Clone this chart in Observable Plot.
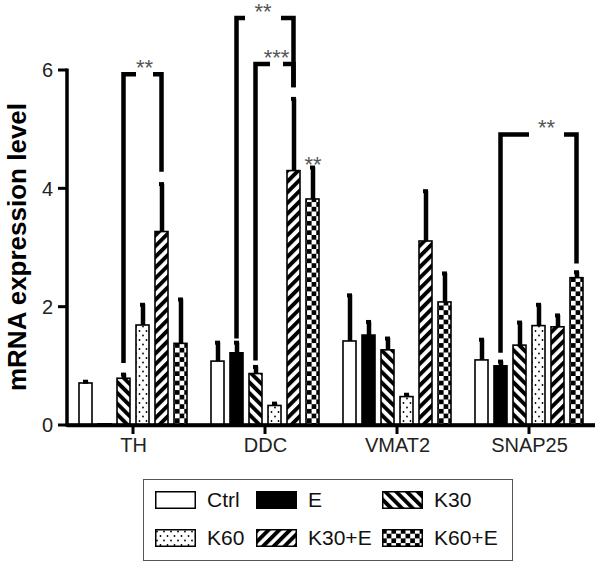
<!DOCTYPE html>
<html>
<head>
<meta charset="utf-8">
<script src="https://cdn.jsdelivr.net/npm/d3@7"></script>
<script src="https://cdn.jsdelivr.net/npm/@observablehq/plot@0.6"></script>
<style>
  html, body { margin: 0; padding: 0; background: #fff; overflow: hidden; }
  body { width: 601px; height: 562px; position: relative; font-family: "Liberation Sans", Arial, sans-serif; }
  #ylabel { position: absolute; left: 17px; top: 247px; transform: translate(-50%, -50%) rotate(-90deg); white-space: nowrap; font-weight: bold; font-size: 26px; color: #000; }
  #legend { position: absolute; left: 143px; top: 479px; width: 370px; height: 82px; border: 1.5px solid #555; box-sizing: border-box; }
  .item { position: absolute; display: flex; align-items: center; font-size: 21px; color: #111; }
  .item svg { margin-right: 11px; }
</style>
</head>
<body>
<svg width="0" height="0" style="position:absolute">
  <defs>
    <pattern id="p-k30" patternUnits="userSpaceOnUse" width="7.6" height="7.6" patternTransform="rotate(-45)">
      <rect width="7.6" height="7.6" fill="#fff"/><rect width="3.9" height="7.6" fill="#000"/>
    </pattern>
    <pattern id="p-k30e" patternUnits="userSpaceOnUse" width="7.6" height="7.6" patternTransform="rotate(45)">
      <rect width="7.6" height="7.6" fill="#fff"/><rect width="3.9" height="7.6" fill="#000"/>
    </pattern>
    <pattern id="p-k60" patternUnits="userSpaceOnUse" width="7" height="9">
      <rect width="7" height="9" fill="#fff"/>
      <circle cx="2" cy="2.5" r="0.9" fill="#000"/><circle cx="5.5" cy="7" r="0.9" fill="#000"/>
    </pattern>
    <pattern id="p-k60e" patternUnits="userSpaceOnUse" width="9.4" height="9.4">
      <rect width="9.4" height="9.4" fill="#fff"/>
      <rect width="4.7" height="4.7" fill="#000"/><rect x="4.7" y="4.7" width="4.7" height="4.7" fill="#000"/>
    </pattern>
  </defs>
</svg>
<div id="chart"></div>
<div id="ylabel"></div>
<div id="legend"></div>
<script>
// ---- data ----
const genes = ["TH", "DDC", "VMAT2", "SNAP25"];
const conditions = ["Ctrl", "E", "K30", "K60", "K30+E", "K60+E"];
const meanTH     = [0.71, 0.02, 0.79, 1.69, 3.27, 1.38];
const upperTH    = [0.74, 0.02, 0.86, 2.04, 4.08, 2.13];
const meanDDC    = [1.08, 1.22, 0.87, 0.33, 4.30, 3.82];
const upperDDC   = [1.40, 1.40, 0.99, 0.37, 5.52, 4.36];
const meanVMAT2  = [1.42, 1.52, 1.27, 0.48, 3.11, 2.08];
const upperVMAT2 = [2.20, 1.75, 1.47, 0.52, 3.96, 2.57];
const meanSNAP25 = [1.10, 1.00, 1.35, 1.68, 1.66, 2.49];
const upperSNAP25= [1.45, 1.08, 1.74, 2.04, 1.86, 2.59];

// significance brackets
const bracketGene  = ["TH", "DDC", "DDC", "SNAP25"];
const bracketFrom  = ["K30", "E", "K30", "E"];
const bracketTo    = ["K30+E", "K30+E", "K30+E", "K60+E"];
const bracketTop   = [5.93, 6.88, 6.10, 4.91];
const bracketLeft  = [1.05, 1.46, 1.09, 1.22];
const bracketRight = [4.28, 5.71, 5.71, 2.73];
const bracketLabel = ["**", "**", "***", "**"];
// single-bar annotation
const starGene = ["DDC"];
const starCond = ["K60+E"];
const starY    = [4.29];
const starLabel= ["**"];

const yTicks = [0, 2, 4, 6];
const yLabel = "mRNA expression level";

// ---- styles ----
const fills = ["#ffffff", "#000000", "url(#p-k30)", "url(#p-k60)", "url(#p-k30e)", "url(#p-k60e)"];
const bracketGapPx = [17, 36, 13, 35];
const bracketShiftPx = [2, -2, 2, 8];

// ---- tables ----
const series = {TH: [meanTH, upperTH], DDC: [meanDDC, upperDDC], VMAT2: [meanVMAT2, upperVMAT2], SNAP25: [meanSNAP25, upperSNAP25]};
const rows = genes.flatMap(g => conditions.map((c, i) => ({gene: g, cond: c, mean: series[g][0][i], upper: series[g][1][i]})));
const errRows = rows.filter(d => d.upper > d.mean);
const brackets = bracketGene.map((g, i) => ({gene: g, from: bracketFrom[i], to: bracketTo[i], top: bracketTop[i], left: bracketLeft[i], right: bracketRight[i], label: bracketLabel[i]}));
const stars = starGene.map((g, i) => ({gene: g, cond: starCond[i], y: starY[i], label: starLabel[i]}));
const axisRows = genes.map(g => ({gene: g, from: conditions[0], to: conditions[conditions.length - 1], y: 0}));

function drawBrackets(index, scales) {
  const g = d3.create("svg:g");
  const bw = scales.x.bandwidth();
  for (const i of index) {
    const b = brackets[i];
    const xa = scales.x(b.from) + bw / 2;
    const xb = scales.x(b.to) + bw / 2;
    const yt = scales.y(b.top), ya = scales.y(b.left), yb = scales.y(b.right);
    const xm = (xa + xb) / 2 + bracketShiftPx[i];
    const gap = bracketGapPx[i] / 2;
    g.append("path")
      .attr("d", `M${xa},${ya}V${yt}H${xm - gap}M${xm + gap},${yt}H${xb}V${yb}`)
      .attr("fill", "none").attr("stroke", "#000").attr("stroke-width", 4.5)
      .attr("stroke-linejoin", "miter").attr("stroke-linecap", "butt");
    g.append("text")
      .attr("x", xm).attr("y", yt + 1)
      .attr("text-anchor", "middle").attr("font-size", 22).attr("fill", "#555")
      .text(b.label);
  }
  return g.node();
}

// axes: baseline, gene ticks, y axis line, y ticks and labels (filled shapes from the scales)
function drawAxes(index, scales) {
  const g = d3.create("svg:g");
  const [r0, r1] = scales.x.range();
  const y0 = scales.y(0);
  for (const i of index) {
    const a = axisRows[i];
    g.append("rect").attr("x", r0).attr("y", y0 - 1.75).attr("width", r1 - r0).attr("height", 3.5).attr("fill", "#000");
    const xc = (r0 + r1) / 2;
    g.append("rect").attr("x", xc - 1.5).attr("y", y0).attr("width", 3).attr("height", 9).attr("fill", "#000");
    if (a.gene === genes[0]) {
      const yTop = scales.y(yTicks[yTicks.length - 1]);
      g.append("rect").attr("x", r0 - 1.75).attr("y", yTop - 1.5).attr("width", 3.5).attr("height", y0 + 1.75 - yTop + 1.5).attr("fill", "#000");
      for (const v of yTicks) {
        const y = scales.y(v);
        g.append("rect").attr("x", r0 - 9).attr("y", y - 1.5).attr("width", 9).attr("height", 3).attr("fill", "#000");
        g.append("text").attr("x", r0 - 14).attr("y", y).attr("dy", "0.36em")
          .attr("text-anchor", "end").attr("font-size", 20).attr("fill", "#222").text(String(v));
      }
    }
  }
  return g.node();
}

const chart = Plot.plot({
  width: 601,
  height: 470,
  marginLeft: 66,
  marginRight: 5,
  marginTop: 70,
  marginBottom: 45,
  style: {fontFamily: "'Liberation Sans', Arial, sans-serif", fontSize: "20px", color: "#000", background: "#fff", overflow: "visible"},
  fx: {domain: genes, padding: 0, label: null, axis: null},
  x: {domain: conditions, paddingInner: 0.3, paddingOuter: 0.4625, axis: null},
  y: {domain: [0, 6], axis: null},
  color: {type: "ordinal", domain: conditions, range: fills},
  marks: [
    Plot.barY(rows, {fx: "gene", x: "cond", y: "mean", fill: "cond", stroke: "#000", strokeWidth: 1.6}),
    Plot.ruleX(errRows, {fx: "gene", x: "cond", y1: "mean", y2: "upper", strokeWidth: 4.5, stroke: "#000"}),
    Plot.tickY(errRows, {fx: "gene", x: "cond", y: "upper", strokeWidth: 4, insetLeft: 4, insetRight: 4, stroke: "#000"}),
    Plot.ruleY([0], {strokeWidth: 3.5, stroke: "#000"}),
    Plot.link(axisRows, {fx: "gene", x1: "from", x2: "to", y1: "y", y2: "y", render: drawAxes}),
    Plot.text(genes, {fx: d => d, frameAnchor: "bottom", lineAnchor: "top", dy: 12, text: d => d, fontSize: 20, fill: "#222"}),
    Plot.link(brackets, {fx: "gene", x1: "from", x2: "to", y1: "left", y2: "right", render: drawBrackets}),
    Plot.text(stars, {fx: "gene", x: "cond", y: "y", text: "label", lineAnchor: "bottom", fontSize: 22, fill: "#555"})
  ]
});
document.getElementById("chart").appendChild(chart);
document.getElementById("ylabel").textContent = yLabel;

// ---- legend ----
const legend = document.getElementById("legend");
const colX = [11, 112, 238];
const rowY = [20, 58];
conditions.forEach((c, i) => {
  const item = document.createElement("div");
  item.className = "item";
  const col = i % 3, row = Math.floor(i / 3);
  item.style.left = colX[col] + "px";
  item.style.top = (rowY[row] - 13) + "px";
  item.style.height = "26px";
  item.innerHTML = `<svg width="41" height="18"><rect x="0.75" y="0.75" width="39.5" height="16.5" fill="${fills[i]}" stroke="#000" stroke-width="1.5"/></svg><span>${c}</span>`;
  legend.appendChild(item);
});
</script>
</body>
</html>
